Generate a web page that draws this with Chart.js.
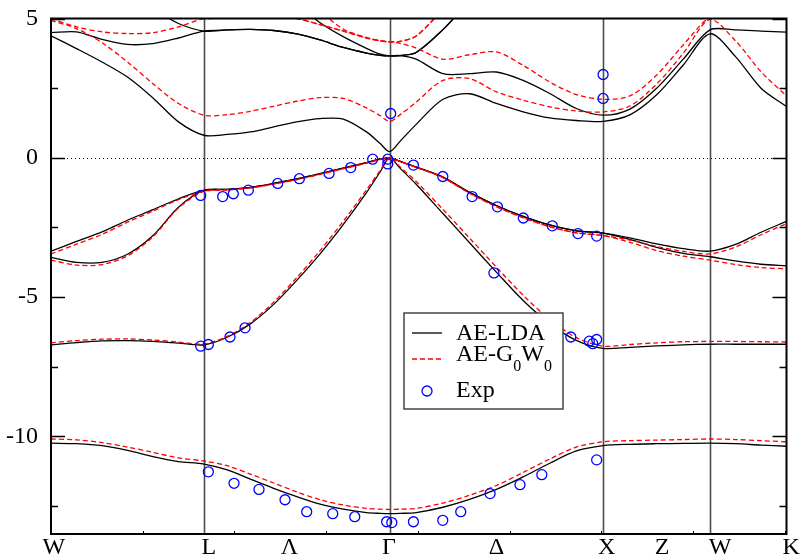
<!DOCTYPE html>
<html>
<head>
<meta charset="utf-8">
<script src="https://cdn.jsdelivr.net/npm/chart.js@4.4.0/dist/chart.umd.min.js"></script>
<style>
  html, body { margin: 0; padding: 0; background: #fff; }
  canvas { display: block; }
</style>
</head>
<body>
<canvas id="bands" width="801" height="556"></canvas>
<script>
// =========================
// k-path and axis labels
// =========================
const TICK_POS    = [0.016, 0.861, 1.300, 1.843, 2.429, 3.029, 3.332, 3.648, 4.035];
const TICK_LABELS = ["W", "L", "Λ", "Γ", "Δ", "X", "Z", "W", "K"];
const SYM_LINES   = [0.834, 1.846, 3.010, 3.593];   // L, Γ, X, W
const X_MAX       = 4.010;
const Y_TICKS     = [5, 0, -5, -10];
const Y_MINOR     = [2.5, -2.5, -7.5, -12.5];

// sample points along W-L-Γ-X-W-K
const K_GRID = [
  0, 0.139, 0.278, 0.417, 0.556, 0.695, 0.834,
  0.961, 1.087, 1.214, 1.340, 1.467, 1.593, 1.720, 1.795, 1.846,
  1.904, 1.991, 2.137, 2.282, 2.428, 2.574, 2.719, 2.864, 3.010,
  3.156, 3.302, 3.447, 3.593,
  3.732, 3.871, 4.010
];

// === AE-LDA bands ===
const LDA_B1 = [-10.24, -10.26, -10.33, -10.5, -10.72, -10.9, -10.99,
  -11.2, -11.53, -11.86, -12.16, -12.43, -12.61, -12.73, -12.76, -12.77,
  -12.76, -12.73, -12.54, -12.26, -11.9, -11.45, -10.96, -10.52, -10.33,
  -10.28, -10.26, -10.25, -10.24, -10.26, -10.31, -10.35];
const LDA_B2 = [-6.71, -6.63, -6.57, -6.56, -6.59, -6.65, -6.71,
  -6.44, -5.96, -5.26, -4.40, -3.45, -2.40, -1.25, -0.50, 0,
  -0.38, -0.95, -2.0, -3.05, -4.1, -5.12, -5.95, -6.55, -6.84,
  -6.8, -6.75, -6.71, -6.69, -6.69, -6.69, -6.69];
const LDA_B3 = [-3.57, -3.75, -3.75, -3.46, -2.79, -1.77, -1.17,
  -1.13, -1.06, -0.92, -0.76, -0.57, -0.37, -0.17, -0.05, 0,
  -0.13, -0.33, -0.69, -1.24, -1.71, -2.10, -2.41, -2.62, -2.70,
  -2.93, -3.21, -3.43, -3.55, -3.70, -3.82, -3.88];
const LDA_B4 = [-3.35, -3.0, -2.66, -2.24, -1.86, -1.47, -1.17,
  -1.13, -1.06, -0.92, -0.76, -0.57, -0.37, -0.17, -0.05, 0,
  -0.13, -0.33, -0.69, -1.24, -1.71, -2.10, -2.41, -2.62, -2.70,
  -2.87, -3.09, -3.26, -3.35, -3.11, -2.67, -2.28];
const LDA_B5 = [4.38, 3.92, 3.44, 2.90, 2.15, 1.29, 0.81,
  0.84, 0.93, 1.11, 1.29, 1.41, 1.39, 0.93, 0.51, 0.22,
  0.6, 1.2, 2.1, 2.3, 1.95, 1.65, 1.43, 1.34, 1.31,
  1.54, 2.26, 3.33, 4.45, 3.63, 2.50, 1.84];
const LDA_B6 = [4.49, 4.52, 4.25, 4.07, 4.10, 4.30, 4.55,
  4.59, 4.61, 4.57, 4.45, 4.23, 3.96, 3.76, 3.68, 3.66,
  3.67, 3.54, 3.02, 3.02, 3.08, 2.78, 2.31, 1.77, 1.53,
  1.75, 2.5, 3.54, 4.59, 4.59, 4.55, 4.51];
const LDA_B7 = [6.6, 6.4, 6.1, 5.8, 5.35, 4.82, 4.55,
  4.59, 4.61, 4.57, 4.45, 4.23, 3.96, 3.76, 3.68, 3.66,
  3.67, 3.78, 4.6, 5.6, 6.3, 6.8, 7.0, 7.1, 7.1,
  6.8, 6.3, 5.8, 5.3, 5.4, 5.6, 5.8];
const LDA_B8 = [7.5, 7.5, 7.4, 7.3, 7.2, 7.1, 7.0,
  6.8, 6.5, 6.1, 5.5, 4.85, 4.35, 3.93, 3.72, 3.66,
  3.67, 3.78, 4.6, 5.6, 6.3, 6.8, 7.0, 7.1, 7.1,
  7.0, 6.6, 6.2, 5.8, 6.0, 6.2, 6.4];

// === AE-G0W0 bands ===
const GW_B1 = [-10.09, -10.12, -10.22, -10.38, -10.57, -10.77, -10.88,
  -11.05, -11.35, -11.67, -11.99, -12.27, -12.46, -12.58, -12.61, -12.62,
  -12.61, -12.58, -12.39, -12.11, -11.76, -11.29, -10.81, -10.38, -10.19,
  -10.15, -10.13, -10.11, -10.09, -10.11, -10.15, -10.19];
const GW_B2 = [-6.64, -6.56, -6.51, -6.50, -6.54, -6.61, -6.68,
  -6.41, -5.91, -5.18, -4.30, -3.33, -2.28, -1.15, -0.45, 0,
  -0.33, -0.85, -1.85, -2.88, -3.92, -4.93, -5.8, -6.45, -6.76,
  -6.70, -6.64, -6.60, -6.59, -6.59, -6.60, -6.61];
const GW_B3 = [-3.67, -3.85, -3.83, -3.52, -2.83, -1.80, -1.20,
  -1.15, -1.08, -0.94, -0.78, -0.59, -0.39, -0.19, -0.06, 0,
  -0.13, -0.34, -0.71, -1.27, -1.75, -2.15, -2.47, -2.69, -2.79,
  -3.03, -3.33, -3.53, -3.67, -3.83, -3.94, -3.98];
const GW_B4 = [-3.45, -3.10, -2.75, -2.31, -1.91, -1.50, -1.20,
  -1.15, -1.08, -0.94, -0.78, -0.59, -0.39, -0.19, -0.06, 0,
  -0.13, -0.34, -0.71, -1.27, -1.75, -2.15, -2.47, -2.69, -2.79,
  -2.95, -3.18, -3.36, -3.45, -3.20, -2.76, -2.36];
const GW_B5 = [4.93, 4.64, 4.13, 3.44, 2.66, 1.95, 1.53,
  1.55, 1.67, 1.85, 2.03, 2.16, 2.13, 1.79, 1.51, 1.31,
  1.55, 2.0, 2.78, 2.84, 2.37, 2.07, 1.83, 1.68, 1.65,
  1.86, 2.65, 3.75, 4.97, 4.2, 3.09, 2.22];
const GW_B6 = [4.99, 4.70, 4.52, 4.46, 4.49, 4.70, 5.0,
  5.05, 5.07, 5.06, 5.0, 4.78, 4.55, 4.30, 4.20, 4.16,
  4.11, 3.94, 3.54, 3.70, 3.80, 3.32, 2.72, 2.27, 2.10,
  2.22, 2.97, 4.05, 5.04, 5.1, 5.1, 5.1];
const GW_B7 = [7.0, 6.8, 6.5, 6.1, 5.7, 5.3, 5.0,
  5.05, 5.07, 5.06, 5.0, 4.78, 4.55, 4.30, 4.20, 4.16,
  4.18, 4.37, 5.3, 6.0, 6.6, 7.0, 7.3, 7.4, 7.4,
  7.2, 6.7, 6.1, 5.6, 5.7, 5.9, 6.0];
const GW_B8 = [7.8, 7.8, 7.7, 7.6, 7.5, 7.4, 7.3,
  7.0, 6.6, 6.2, 5.8, 5.25, 4.62, 4.32, 4.21, 4.16,
  4.18, 4.37, 5.3, 6.0, 6.6, 7.0, 7.3, 7.4, 7.4,
  7.4, 7.0, 6.6, 6.2, 6.4, 6.6, 6.8];

// === Experiment ===
const EXP_K = [0.816, 0.936, 0.994, 1.076, 1.236, 1.354, 1.516, 1.634, 1.754, 1.836, 1.836,
  1.976, 2.136, 2.296, 2.434, 2.575, 2.733, 2.873, 2.975,
  2.415, 2.834, 2.935, 2.975, 2.954,
  0.816, 0.858, 0.976, 1.058,
  0.858, 0.998, 1.134, 1.276, 1.394, 1.536, 1.656, 1.830, 1.858, 1.976, 2.136, 2.234, 2.394, 2.557, 2.676, 2.975,
  1.852, 3.010, 3.010];
const EXP_E = [-1.35, -1.39, -1.29, -1.16, -0.92, -0.75, -0.56, -0.35, -0.05, -0.05, -0.22,
  -0.26, -0.67, -1.39, -1.76, -2.16, -2.44, -2.72, -2.81,
  -4.13, -6.43, -6.58, -6.52, -6.67,
  -6.76, -6.70, -6.43, -6.10,
  -11.27, -11.68, -11.90, -12.27, -12.70, -12.77, -12.88, -13.06, -13.09, -13.06, -13.01, -12.70, -12.05, -11.73, -11.37, -10.84,
  1.59, 2.99, 2.13];

const LDA_BANDS = [LDA_B1, LDA_B2, LDA_B3, LDA_B4, LDA_B5, LDA_B6, LDA_B7, LDA_B8];
const GW_BANDS  = [GW_B1, GW_B2, GW_B3, GW_B4, GW_B5, GW_B6, GW_B7, GW_B8];

// =========================
// DATASETS
// =========================
function toPoints(band) {
  return band.map((e, i) => ({ x: K_GRID[i], y: e }));
}

const datasets = [];

LDA_BANDS.forEach((band) => {
  datasets.push({
    data: toPoints(band),
    borderColor: "#000",
    borderWidth: 1.3,
    pointRadius: 0,
    tension: 0.3,
    order: 3
  });
});

GW_BANDS.forEach((band) => {
  datasets.push({
    data: toPoints(band),
    borderColor: "#ff0000",
    borderWidth: 1.3,
    borderDash: [5, 3],
    pointRadius: 0,
    tension: 0.3,
    order: 2
  });
});

datasets.push({
  data: EXP_K.map((k, i) => ({ x: k, y: EXP_E[i] })),
  showLine: false,
  pointStyle: "circle",
  pointRadius: 5,
  pointBorderWidth: 1.3,
  pointBorderColor: "#0000ff",
  pointBackgroundColor: "rgba(0,0,0,0)",
  order: 1
});

// =========================
// DECORATION PLUGIN
// =========================
const decor = {
  id: "decor",
  beforeDatasetsDraw(chart) {
    const { ctx, chartArea: ca, scales } = chart;
    ctx.save();
    // symmetry lines
    ctx.strokeStyle = "#4d4d4d";
    ctx.lineWidth = 1.6;
    SYM_LINES.forEach((k) => {
      const px = Math.round(scales.x.getPixelForValue(k)) + 0.5;
      ctx.beginPath();
      ctx.moveTo(px, ca.top);
      ctx.lineTo(px, ca.bottom);
      ctx.stroke();
    });
    // Fermi level
    const y0 = Math.round(scales.y.getPixelForValue(0)) + 0.5;
    ctx.strokeStyle = "#000";
    ctx.lineWidth = 1;
    ctx.setLineDash([1, 3]);
    ctx.beginPath();
    ctx.moveTo(ca.left, y0);
    ctx.lineTo(ca.right, y0);
    ctx.stroke();
    ctx.restore();
  },
  afterDraw(chart) {
    const { ctx, chartArea: ca, scales } = chart;
    ctx.save();
    ctx.strokeStyle = "#000";
    ctx.lineWidth = 1.5;

    // inner ticks, left and right
    const tick = (v, len) => {
      const py = Math.round(scales.y.getPixelForValue(v)) + 0.5;
      ctx.beginPath();
      ctx.moveTo(ca.left, py); ctx.lineTo(ca.left + len, py);
      ctx.moveTo(ca.right, py); ctx.lineTo(ca.right - len, py);
      ctx.stroke();
    };
    Y_TICKS.forEach((v) => tick(v, 14));
    Y_MINOR.forEach((v) => tick(v, 7));

    // small bottom ticks
    ctx.lineWidth = 1;
    for (let v = 0.5; v < X_MAX; v += 0.5) {
      const px = Math.round(scales.x.getPixelForValue(v)) + 0.5;
      ctx.beginPath();
      ctx.moveTo(px, ca.bottom);
      ctx.lineTo(px, ca.bottom - 3);
      ctx.stroke();
    }

    // frame
    ctx.lineWidth = 2;
    ctx.strokeRect(ca.left, ca.top, ca.right - ca.left, ca.bottom - ca.top);

    // legend
    const lx = ca.left + 353, ly = ca.top + 294.5;
    ctx.fillStyle = "#fff";
    ctx.fillRect(lx, ly, 159, 96);
    ctx.strokeStyle = "#444";
    ctx.lineWidth = 1.5;
    ctx.strokeRect(lx, ly, 159, 96);

    ctx.lineWidth = 1.3;
    ctx.strokeStyle = "#000";
    ctx.beginPath();
    ctx.moveTo(lx + 8, ly + 20); ctx.lineTo(lx + 38, ly + 20);
    ctx.stroke();

    ctx.strokeStyle = "#ff0000";
    ctx.setLineDash([5, 3]);
    ctx.beginPath();
    ctx.moveTo(lx + 8, ly + 46); ctx.lineTo(lx + 38, ly + 46);
    ctx.stroke();
    ctx.setLineDash([]);

    ctx.strokeStyle = "#0000ff";
    ctx.beginPath();
    ctx.arc(lx + 23, ly + 78, 5, 0, Math.PI * 2);
    ctx.stroke();

    ctx.fillStyle = "#000";
    ctx.textBaseline = "alphabetic";
    ctx.font = "24px 'Liberation Serif'";
    ctx.fillText("AE-LDA", lx + 52, ly + 27);

    let tx = lx + 52;
    [["AE-G", false], ["0", true], ["W", false], ["0", true]].forEach(([t, sub]) => {
      ctx.font = sub ? "16px 'Liberation Serif'" : "24px 'Liberation Serif'";
      ctx.fillText(t, tx, ly + (sub ? 58 : 48));
      tx += ctx.measureText(t).width;
    });

    ctx.font = "24px 'Liberation Serif'";
    ctx.fillText("Exp", lx + 52, ly + 84);
    ctx.restore();
  }
};

// =========================
// CHART
// =========================
Chart.defaults.font.family = "'Liberation Serif', serif";

new Chart(document.getElementById("bands"), {
  type: "line",
  data: { datasets },
  plugins: [decor],
  options: {
    responsive: false,
    animation: false,
    devicePixelRatio: 1,
    layout: { padding: { left: 0, right: 14.5, top: 18.5, bottom: 0 } },
    plugins: { legend: { display: false }, tooltip: { enabled: false } },
    scales: {
      x: {
        type: "linear",
        min: 0,
        max: X_MAX,
        grid: { display: false },
        border: { display: false },
        afterBuildTicks: (s) => { s.ticks = TICK_POS.map((v) => ({ value: v })); },
        afterFit: (s) => { s.height = 22; s.paddingLeft = 0; s.paddingRight = 0; },
        ticks: {
          autoSkip: false,
          maxRotation: 0,
          padding: -9,
          color: "#000",
          font: { size: 24 },
          callback: (v, i) => TICK_LABELS[i]
        }
      },
      y: {
        min: -13.5,
        max: 5,
        grid: { display: false },
        border: { display: false },
        afterBuildTicks: (s) => { s.ticks = Y_TICKS.map((v) => ({ value: v })); },
        afterFit: (s) => { s.width = 51; s.paddingTop = 0; s.paddingBottom = 0; },
        ticks: {
          padding: 5,
          color: "#000",
          font: { size: 24 },
          callback: (v) => String(v)
        }
      }
    }
  }
});
</script>
</body>
</html>
